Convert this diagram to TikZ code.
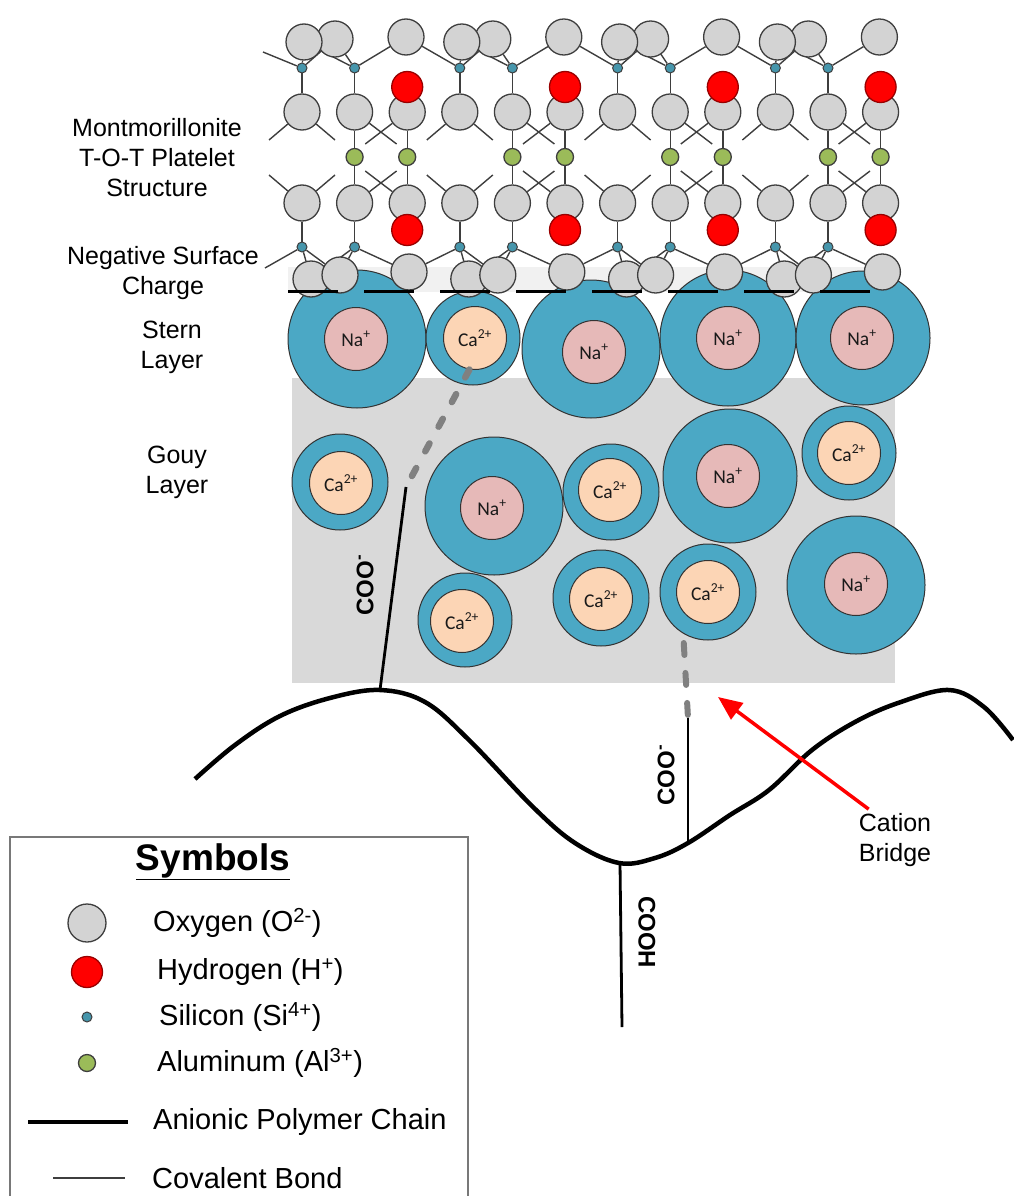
\documentclass[tikz,border=0pt]{standalone}
\usepackage{fontspec}
\setmainfont{Liberation Sans}
\newfontfamily\ionfont{Carlito}
\usetikzlibrary{arrows.meta}

\definecolor{oxgray}{RGB}{211,211,211}
\definecolor{atomline}{RGB}{62,62,62}
\definecolor{hydred}{RGB}{255,0,0}
\definecolor{siteal}{RGB}{70,150,172}
\definecolor{algreen}{RGB}{155,187,89}
\definecolor{shellblue}{RGB}{75,168,197}
\definecolor{nafill}{RGB}{230,185,184}
\definecolor{cafill}{RGB}{252,213,181}
\definecolor{gouygray}{RGB}{217,217,217}
\definecolor{bandgray}{RGB}{241,241,241}
\definecolor{bridgegray}{RGB}{128,128,128}
\definecolor{frame}{RGB}{120,120,120}

\pgfdeclarelayer{back}
\pgfdeclarelayer{bonds}
\pgfsetlayers{back,bonds,main}

\tikzset{
  atom/.style={circle, draw=atomline, line width=1.3pt, inner sep=0pt},
  oxy/.style={atom, fill=oxgray, minimum size=36pt},
  hyd/.style={atom, fill=hydred, draw=red!60!black, minimum size=31pt},
  sil/.style={atom, fill=siteal, minimum size=10pt, line width=1pt},
  alu/.style={atom, fill=algreen, minimum size=17pt},
  bond/.style={atomline, line width=1.4pt},
  shell/.style={circle, draw=black!80, line width=1pt, fill=shellblue, inner sep=0pt},
  core/.style={circle, draw=black!80, line width=1pt, inner sep=0pt, minimum size=63pt,
    font=\ionfont\fontsize{19.5}{19.5}\selectfont, text=black!90},
  na/.style={core, fill=nafill},
  ca/.style={core, fill=cafill},
  sidelabel/.style={align=center, font=\fontsize{25}{30}\selectfont},
  keytext/.style={anchor=west, inner sep=0pt, font=\fontsize{29}{32}\selectfont},
  acidlabel/.style={font=\bfseries\fontsize{24}{24}\selectfont},
  chain/.style={black, line width=4.5pt},
  stalk/.style={black, line width=2.8pt},
  surface/.style={black, line width=3pt, dash pattern=on 50pt off 26pt},
  bridgeA/.style={bridgegray, line width=6.5pt, line cap=round, dash pattern=on 9pt off 19pt},
  bridgeB/.style={bridgegray, line width=6pt, line cap=round, dash pattern=on 12pt off 18pt},
  redarrow/.style={red, line width=3.5pt, -{Triangle[length=24pt,width=20pt]}},
}

\newcommand{\hydion}[6]{%
  \node[shell, minimum size=#4] (#1) at (#2) {};
  \node[#5] (#1-c) at (#3) {#6};
}

\begin{document}
\begin{tikzpicture}[x=1pt,y=-1pt]
\useasboundingbox (0,0) rectangle (1013,1196);

\begin{pgfonlayer}{back}
  \fill[bandgray] (288,267) rectangle (895,292);
  \fill[gouygray] (292,378) rectangle (895,683);
  \hydion{sternA}{357,339}{356,339}{138pt}{na}{Na\textsuperscript{+}}
  \hydion{sternB}{473,338}{475,338}{94pt}{ca}{Ca\textsuperscript{2+}}
  \hydion{sternC}{591,349}{594,352}{138pt}{na}{Na\textsuperscript{+}}
  \hydion{sternD}{728,338}{728,338}{136pt}{na}{Na\textsuperscript{+}}
  \hydion{sternE}{863,338}{862,338}{134pt}{na}{Na\textsuperscript{+}}
  \hydion{gouyA}{340,482}{341,483}{96pt}{ca}{Ca\textsuperscript{2+}}
  \hydion{gouyB}{494,506}{492,508}{138pt}{na}{Na\textsuperscript{+}}
  \hydion{gouyC}{611,492}{610,490}{96pt}{ca}{Ca\textsuperscript{2+}}
  \hydion{gouyD}{465,620}{462,621}{94pt}{ca}{Ca\textsuperscript{2+}}
  \hydion{gouyE}{601,598}{601,599}{96pt}{ca}{Ca\textsuperscript{2+}}
  \hydion{gouyF}{730,476}{728,476}{134pt}{na}{Na\textsuperscript{+}}
  \hydion{gouyG}{849,453}{849,453}{94pt}{ca}{Ca\textsuperscript{2+}}
  \hydion{gouyH}{708,592}{708,592}{96pt}{ca}{Ca\textsuperscript{2+}}
  \hydion{gouyI}{856,585}{856,584}{138pt}{na}{Na\textsuperscript{+}}
\end{pgfonlayer}

\foreach \i in {0,...,11} {
  \pgfmathsetmacro\x{302+52.6*\i}
  \node[oxy] (oa-\i) at (\x,112) {};
  \node[oxy] (ob-\i) at (\x,203) {};
}
\foreach \i in {2,5,8,11} {
  \pgfmathsetmacro\x{302+52.6*\i}
  \node[hyd] (ha-\i) at (\x,87) {};
  \node[hyd] (hb-\i) at (\x,230) {};
}
\foreach \i in {1,2,4,5,7,8,10,11} {
  \pgfmathsetmacro\x{302+52.6*\i}
  \node[alu] (al-\i) at (\x,157) {};
}
\foreach \i in {0,1,3,4,6,7,9,10} {
  \pgfmathsetmacro\x{302+52.6*\i}
  \node[sil] (sa-\i) at (\x,68) {};
  \node[sil] (sb-\i) at (\x,247) {};
}
\foreach \k in {0,...,3} {
  \pgfmathsetmacro\x{302+157.8*\k}
  \node[oxy] (tb-\k) at (\x+33,39) {};
  \node[oxy] (ta-\k) at (\x+2,42) {};
  \node[oxy] (tc-\k) at (\x+104,37) {};
  \node[oxy] (ba-\k) at (\x+9,279) {};
  \node[oxy] (bb-\k) at (\x+38,275) {};
  \node[oxy] (bc-\k) at (\x+107,272) {};
}

\begin{pgfonlayer}{bonds}
  \foreach \k in {0,...,3} {
    \pgfmathtruncatemacro\ia{3*\k}
    \pgfmathtruncatemacro\ib{3*\k+1}
    \pgfmathtruncatemacro\ic{3*\k+2}
    \pgfmathtruncatemacro\ip{\k-1}
    \draw[bond] (sa-\ia) -- (ta-\k);
    \draw[bond] (sa-\ia) -- (tb-\k);
    \draw[bond] (sa-\ib) -- (ta-\k);
    \draw[bond] (sa-\ib) -- (tb-\k);
    \draw[bond] (sa-\ib) -- (tc-\k);
    \draw[bond] (sa-\ia) -- (oa-\ia);
    \draw[bond] (sa-\ib) -- (oa-\ib);
    \draw[bond] (sb-\ia) -- (ba-\k);
    \draw[bond] (sb-\ia) -- (bb-\k);
    \draw[bond] (sb-\ib) -- (ba-\k);
    \draw[bond] (sb-\ib) -- (bb-\k);
    \draw[bond] (sb-\ib) -- (bc-\k);
    \draw[bond] (sb-\ia) -- (ob-\ia);
    \draw[bond] (sb-\ib) -- (ob-\ib);
    \ifnum\k>0
      \draw[bond] (sa-\ia) -- (tc-\ip);
      \draw[bond] (sb-\ia) -- (bc-\ip);
    \else
      \draw[bond] (sa-0) -- ++(-39,-16) coordinate (topstub);
      \draw[bond] (sb-0) -- ++(-37,21) coordinate (chargestub);
    \fi
    \draw[bond] (oa-\ib) -- (al-\ib) -- (ob-\ib);
    \draw[bond] (oa-\ic) -- (al-\ic) -- (ob-\ic);
    \draw[bond] (oa-\ia) -- ++(-33,28) coordinate (oa-\ia-l);
    \draw[bond] (oa-\ia) -- ++(33,28) coordinate (oa-\ia-r);
    \draw[bond] (oa-\ib) -- ++(42,32) coordinate (oa-\ib-r);
    \draw[bond] (oa-\ic) -- ++(-42,32) coordinate (oa-\ic-l);
    \draw[bond] (ob-\ia) -- ++(-33,-28) coordinate (ob-\ia-l);
    \draw[bond] (ob-\ia) -- ++(33,-28) coordinate (ob-\ia-r);
    \draw[bond] (ob-\ib) -- ++(42,-32) coordinate (ob-\ib-r);
    \draw[bond] (ob-\ic) -- ++(-42,-32) coordinate (ob-\ic-l);
  }
\end{pgfonlayer}

\coordinate (chargeL) at (288,291);
\coordinate (chargeR) at (872,291);
\draw[surface] (chargeL) -- (chargeR);

\draw[chain] plot[smooth, tension=0.6] coordinates {(195,779) (235,745) (280,716) (330,698)
  (380,690) (425,702) (469,740) (533,807) (575,843) (619,863) (655,858) (688,843) (730,815)
  (769,790) (812,750) (855,722) (898,703) (949,690) (984,707) (1013,740)};

\coordinate (pA) at (380,690);
\coordinate (pAtop) at (406,487);
\coordinate (pB) at (688,843);
\coordinate (pBtop) at (688,718);
\coordinate (pC) at (620,863);
\coordinate (pCend) at (622,1027);
\draw[stalk] (pA) -- (pAtop);
\draw[stalk] (pB) -- (pBtop);
\draw[stalk] (pC) -- (pCend);
\draw[bridgeA] (sternB-c.-100) -- (pAtop);
\draw[bridgeB] ([yshift=-9pt]gouyH.-120) -- (pBtop);

\node[acidlabel, rotate=90] (cooA) at (365,585) {COO\textsuperscript{-}};
\node[acidlabel, rotate=90] (cooB) at (666,775) {COO\textsuperscript{-}};
\node[acidlabel, rotate=-90] (cooh) at (647,932) {COOH};

\node[sidelabel] (platelet) at (157,158) {Montmorillonite\\T-O-T Platelet\\Structure};
\node[sidelabel] (surfcharge) at (163,273) {Negative Surface\\Charge};
\node[sidelabel] (stern) at (172,347) {Stern\\Layer};
\node[sidelabel] (gouy) at (177,472) {Gouy\\Layer};

\node[sidelabel, inner sep=0pt] (bridgelbl) at (895,840) {Cation\\Bridge};
\coordinate (arrowtip) at (718,697);
\draw[redarrow] ([xshift=10pt,yshift=4pt]bridgelbl.north west) -- (arrowtip);

\draw[frame, line width=1.5pt] (10,837) rectangle (468,1215);
\node[font=\bfseries\fontsize{37}{37}\selectfont] (symtitle) at (213,862) {\underline{Symbols}};
\node[oxy, minimum size=38pt] (keyO) at (87,923) {};
\node[hyd] (keyH) at (87,972) {};
\node[sil] (keySi) at (87,1017) {};
\node[alu] (keyAl) at (87,1063) {};
\coordinate (chainL) at (28,1122);
\coordinate (chainR) at (128,1122);
\draw[chain] (chainL) -- (chainR);
\coordinate (bondL) at (53,1178);
\coordinate (bondR) at (125,1178);
\draw[bond] (bondL) -- (bondR);
\node[keytext] (keyOtxt) at (153,923) {Oxygen (O\textsuperscript{2-})};
\node[keytext] (keyHtxt) at (157,972) {Hydrogen (H\textsuperscript{+})};
\node[keytext] (keySitxt) at (159,1017) {Silicon (Si\textsuperscript{4+})};
\node[keytext] (keyAltxt) at (157,1063) {Aluminum (Al\textsuperscript{3+})};
\node[keytext] (keychain) at (153,1122) {Anionic Polymer Chain};
\node[keytext] (keybond) at (152,1178) {Covalent Bond};
\end{tikzpicture}
\end{document}
